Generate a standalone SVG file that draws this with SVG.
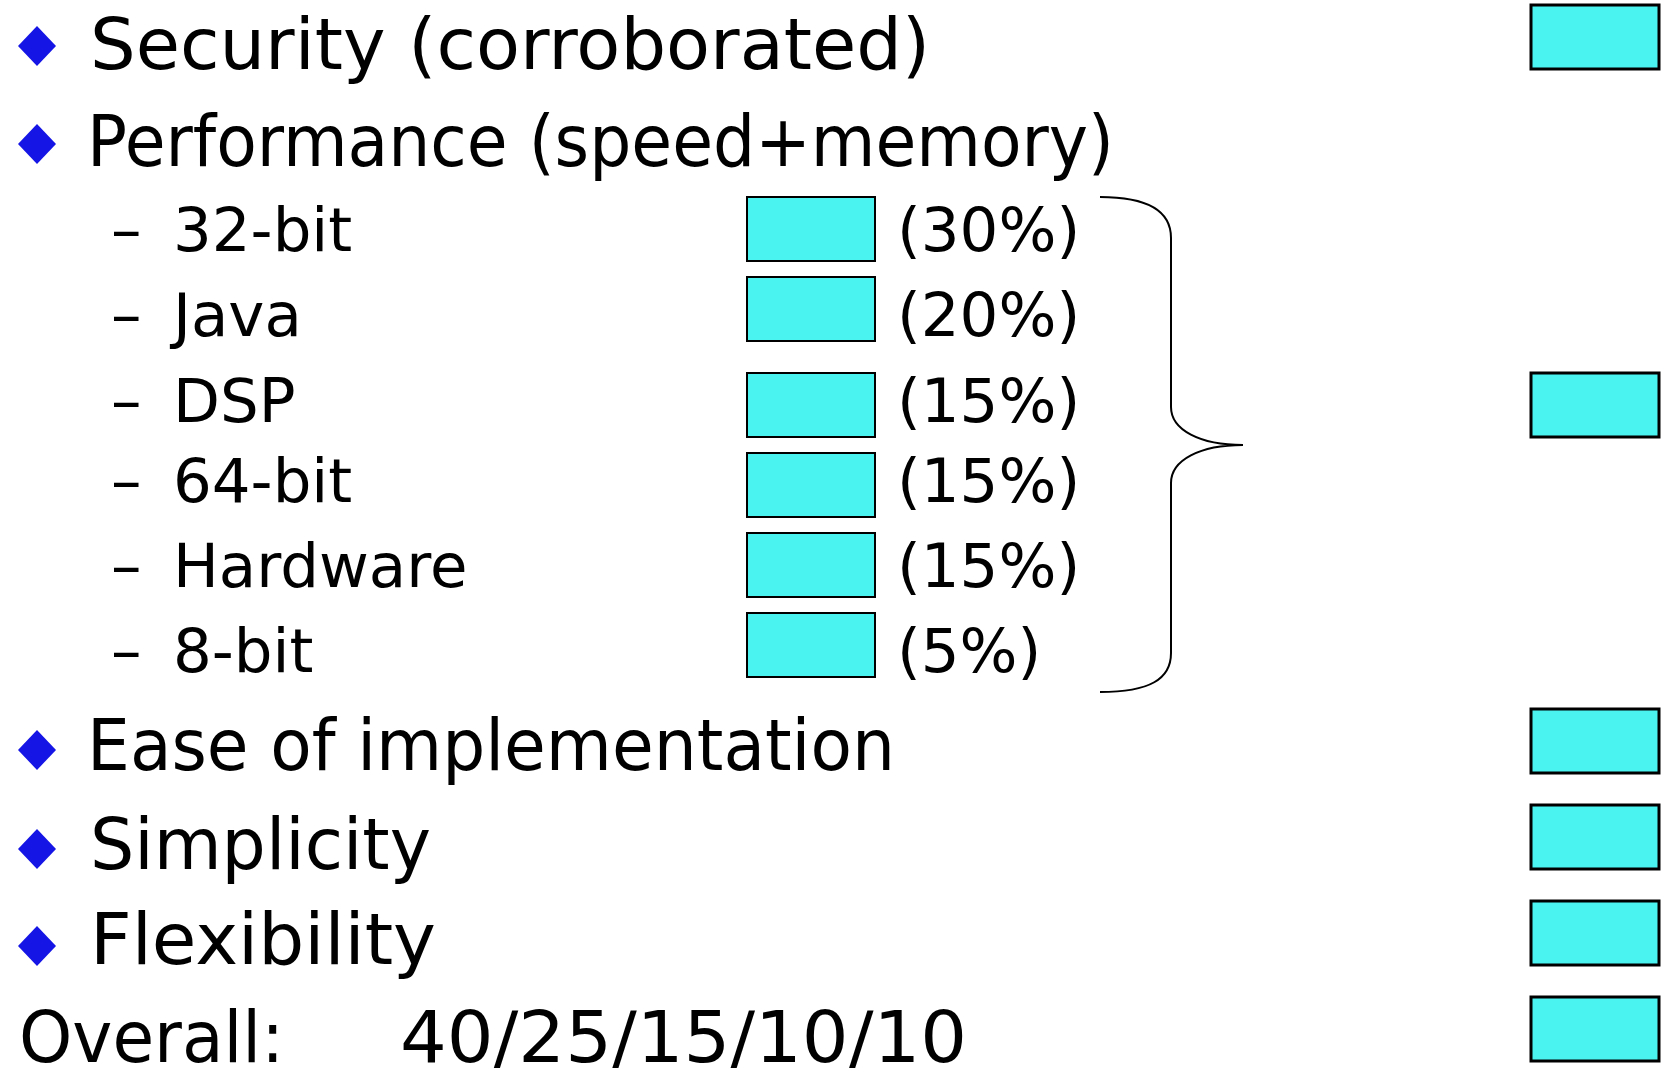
<svg xmlns="http://www.w3.org/2000/svg" width="1661" height="1068" viewBox="0 0 1661 1068">
<style>
text{font-family:"DejaVu Sans",sans-serif;fill:#000}
.main{font-size:72px}
.sub{font-size:61px}
.bul{fill:#1515e6}
.boxR{fill:#4af2f0;stroke:#000;stroke-width:3}
.boxM{fill:#4af2f0;stroke:#000;stroke-width:2}
.brace{fill:none;stroke:#000;stroke-width:2}
</style>
<rect width="1661" height="1068" fill="#fff"/>
<defs>
<path id="dia" d="M0,-20 L19,0 L0,20 L-19,0 Z"/>
</defs>
<g id="security">
<use href="#dia" class="bul" x="37" y="46"/>
<text class="main" x="90" y="69" textLength="840" lengthAdjust="spacingAndGlyphs">Security (corroborated)</text>
<rect class="boxR" x="1531" y="5" width="128" height="64"/>
</g>
<g id="performance">
<use href="#dia" class="bul" x="37" y="144"/>
<text class="main" x="87" y="166" textLength="1027" lengthAdjust="spacingAndGlyphs">Performance (speed+memory)</text>
<rect class="boxR" x="1531" y="373" width="128" height="64"/>
</g>
<g id="bit32">
<text class="sub" x="111" y="251">–<tspan x="173">32-bit</tspan></text>
<rect class="boxM" x="747" y="197" width="128" height="64"/>
<text class="sub" x="897" y="251">(30%)</text>
</g>
<g id="java">
<text class="sub" x="111" y="336">–<tspan x="173">Java</tspan></text>
<rect class="boxM" x="747" y="277" width="128" height="64"/>
<text class="sub" x="897" y="336">(20%)</text>
</g>
<g id="dsp">
<text class="sub" x="111" y="422">–<tspan x="173">DSP</tspan></text>
<rect class="boxM" x="747" y="373" width="128" height="64"/>
<text class="sub" x="897" y="422">(15%)</text>
</g>
<g id="bit64">
<text class="sub" x="111" y="502">–<tspan x="173">64-bit</tspan></text>
<rect class="boxM" x="747" y="453" width="128" height="64"/>
<text class="sub" x="897" y="502">(15%)</text>
</g>
<g id="hardware">
<text class="sub" x="111" y="587">–<tspan x="173">Hardware</tspan></text>
<rect class="boxM" x="747" y="533" width="128" height="64"/>
<text class="sub" x="897" y="587">(15%)</text>
</g>
<g id="bit8">
<text class="sub" x="111" y="672">–<tspan x="173">8-bit</tspan></text>
<rect class="boxM" x="747" y="613" width="128" height="64"/>
<text class="sub" x="897" y="672">(5%)</text>
</g>
<g id="ease">
<use href="#dia" class="bul" x="37" y="750"/>
<text class="main" x="87" y="770" textLength="808" lengthAdjust="spacingAndGlyphs">Ease of implementation</text>
<rect class="boxR" x="1531" y="709" width="128" height="64"/>
</g>
<g id="simplicity">
<use href="#dia" class="bul" x="37" y="849"/>
<text class="main" x="90" y="869" textLength="341" lengthAdjust="spacingAndGlyphs">Simplicity</text>
<rect class="boxR" x="1531" y="805" width="128" height="64"/>
</g>
<g id="flexibility">
<use href="#dia" class="bul" x="37" y="946"/>
<text class="main" x="90" y="964" textLength="346" lengthAdjust="spacingAndGlyphs">Flexibility</text>
<rect class="boxR" x="1531" y="901" width="128" height="64"/>
</g>
<g id="overall">
<text class="main" x="19" y="1062" textLength="265" lengthAdjust="spacingAndGlyphs">Overall:</text>
<text class="main" x="400" y="1062" textLength="567" lengthAdjust="spacingAndGlyphs">40/25/15/10/10</text>
<rect class="boxR" x="1531" y="997" width="128" height="64"/>
</g>
<g id="connectors">
<path class="brace" d="M1100,197 C1150,197 1171,212 1171,238 L1171,407 C1171,430 1200,445 1243,445 C1200,445 1171,460 1171,483 L1171,653 C1171,679 1150,692 1100,692"/>
</g>
</svg>
